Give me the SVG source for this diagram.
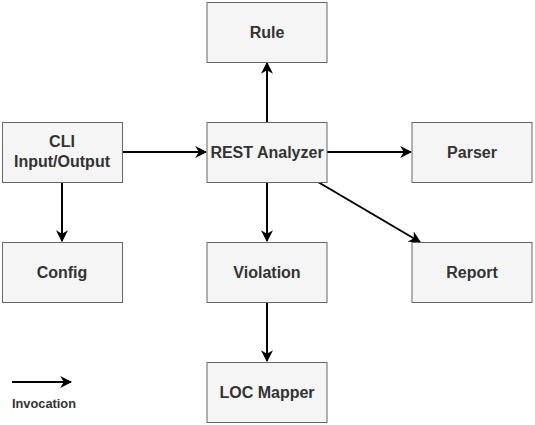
<svg xmlns="http://www.w3.org/2000/svg" width="535" height="425" viewBox="0 0 535 425">
<style>
.box{fill:#f5f5f5;stroke:#666666;stroke-width:1}
.lbl{font-family:"Liberation Sans",Arial,sans-serif;font-size:16px;font-weight:bold;fill:#333333;text-anchor:middle}
.edge{stroke:#000000;stroke-width:2;fill:none}
</style>
<defs>
<marker id="arr" viewBox="0 0 10 10" refX="9" refY="5" markerWidth="6" markerHeight="6" orient="auto" markerUnits="strokeWidth">
<path d="M0,0 L10,5 L0,10 L3,5 Z" fill="#000000"/>
</marker>
</defs>
<rect width="535" height="425" fill="#ffffff"/>
<g id="connectors">
<line class="edge" x1="267" y1="122" x2="267" y2="63" marker-end="url(#arr)"/>
<line class="edge" x1="122" y1="152" x2="206" y2="152" marker-end="url(#arr)"/>
<line class="edge" x1="327" y1="152" x2="411" y2="152" marker-end="url(#arr)"/>
<line class="edge" x1="62" y1="182" x2="62" y2="241" marker-end="url(#arr)"/>
<line class="edge" x1="267" y1="182" x2="267" y2="241" marker-end="url(#arr)"/>
<line class="edge" x1="318" y1="182" x2="420" y2="242" marker-end="url(#arr)"/>
<line class="edge" x1="267" y1="302" x2="267" y2="361" marker-end="url(#arr)"/>
</g>
<g id="rule"><rect class="box" x="207" y="2.5" width="120" height="60"/><text class="lbl" x="267" y="38">Rule</text></g>
<g id="cli"><rect class="box" x="2.5" y="122.5" width="120" height="60"/><text class="lbl" x="62" y="147">CLI</text><text class="lbl" x="62" y="167">Input/Output</text></g>
<g id="rest"><rect class="box" x="207" y="122.5" width="120" height="60"/><text class="lbl" x="267" y="158">REST Analyzer</text></g>
<g id="parser"><rect class="box" x="412" y="122.5" width="120" height="60"/><text class="lbl" x="472" y="158">Parser</text></g>
<g id="config"><rect class="box" x="2.5" y="242.5" width="120" height="60"/><text class="lbl" x="62" y="278">Config</text></g>
<g id="violation"><rect class="box" x="207" y="242.5" width="120" height="60"/><text class="lbl" x="267" y="278">Violation</text></g>
<g id="report"><rect class="box" x="412" y="242.5" width="120" height="60"/><text class="lbl" x="472" y="278">Report</text></g>
<g id="locmapper"><rect class="box" x="207" y="362.5" width="120" height="60"/><text class="lbl" x="267" y="398">LOC Mapper</text></g>
<g id="legend">
<line class="edge" x1="12" y1="382" x2="71" y2="382" marker-end="url(#arr)"/>
<text x="12" y="408" style="font-family:'Liberation Sans',Arial,sans-serif;font-size:12.8px;font-weight:bold;fill:#333333">Invocation</text>
</g>
</svg>
